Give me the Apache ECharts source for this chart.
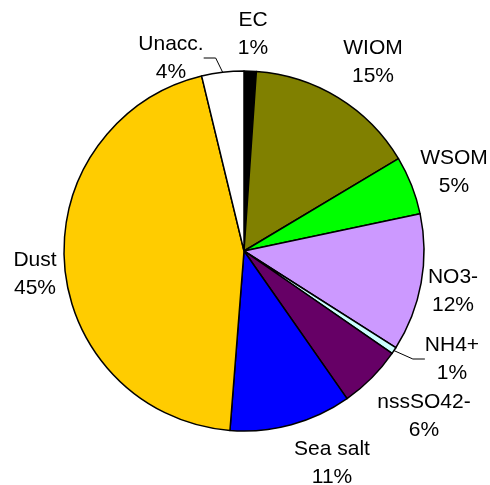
<!DOCTYPE html>
<html>
<head>
<meta charset="utf-8">
<script src="https://cdn.jsdelivr.net/npm/echarts@6/dist/echarts.min.js"></script>
<style>
  html, body { margin: 0; padding: 0; background: #fff; }
  #app { width: 490px; height: 485px; }
</style>
</head>
<body>
<div id="app"></div>
<script>
// components, clockwise from 12 o'clock
var names = ['EC', 'WIOM', 'WSOM', 'NO3-', 'NH4+', 'nssSO42-', 'Sea salt', 'Dust', 'Unacc.'];
var values = [1.1, 15.4, 5.3, 12.4, 0.6, 5.7, 11.0, 45.2, 3.8];
var pctLabels = ['1%', '15%', '5%', '12%', '1%', '6%', '11%', '45%', '4%'];
var colors = ['#000000', '#808000', '#00ff00', '#cc99ff', '#ccffff', '#660066', '#0000ff', '#ffcc00', '#ffffff'];
var withLine = ['Unacc.', 'NH4+'];

// label block centres (layout only)
var labelPos = [
    [253, 34], [373, 62], [454, 172], [453, 291], [452, 359],
    [424, 416], [332, 463], [35, 274], [171, 58]
];

var myChart = echarts.init(document.getElementById('app'));

var data = names.map(function (n, i) {
    return {
        name: n,
        value: values[i],
        itemStyle: { color: colors[i] },
        labelLine: { show: withLine.indexOf(n) >= 0 }
    };
});

myChart.setOption({
    backgroundColor: '#ffffff',
    animation: false,
    series: [{
        type: 'pie',
        center: [244, 251],
        radius: 180,
        startAngle: 90,
        clockwise: true,
        avoidLabelOverlap: false,
        data: data,
        itemStyle: { borderColor: '#000', borderWidth: 1.5 },
        label: {
            show: true,
            position: 'outside',
            fontFamily: 'Liberation Sans, Arial, sans-serif',
            fontSize: 21,
            lineHeight: 28,
            color: '#000',
            align: 'center',
            formatter: function (p) {
                return p.name + '\n' + pctLabels[p.dataIndex];
            }
        },
        labelLine: {
            length: 10,
            length2: 12,
            lineStyle: { color: '#000', width: 1 }
        },
        labelLayout: function (p) {
            var pos = labelPos[p.dataIndex];
            return { x: pos[0], y: pos[1], align: 'center', verticalAlign: 'middle' };
        },
        emphasis: { disabled: true }
    }]
});
</script>
</body>
</html>
